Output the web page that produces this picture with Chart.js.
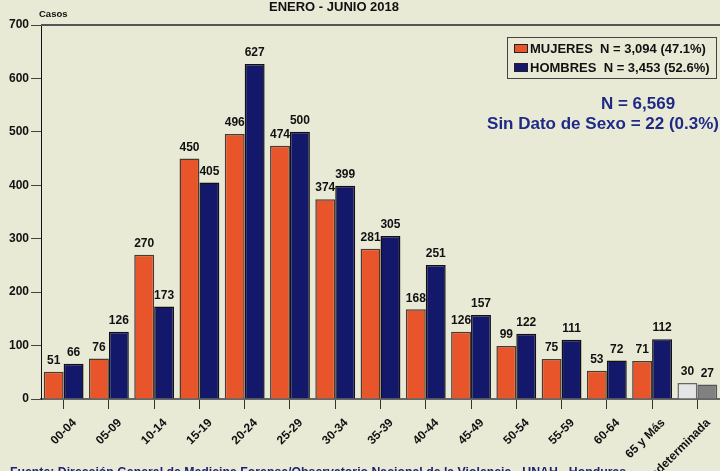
<!DOCTYPE html>
<html>
<head>
<meta charset="utf-8">
<script src="https://cdn.jsdelivr.net/npm/chart.js@4/dist/chart.umd.min.js"></script>
<style>
  html, body { margin: 0; padding: 0; background: #e9ead6; }
  #wrap { width: 720px; height: 471px; position: relative; }
</style>
</head>
<body>
<div id="wrap"><canvas id="chart"></canvas></div>
<script>
var categories = ['00-04', '05-09', '10-14', '15-19', '20-24', '25-29', '30-34', '35-39',
  '40-44', '45-49', '50-54', '55-59', '60-64', '65 y Más', 'Indeterminada'];
var mujeres = [51, 76, 270, 450, 496, 474, 374, 281, 168, 126, 99, 75, 53, 71, 30];
var hombres = [66, 126, 173, 405, 627, 500, 399, 305, 251, 157, 122, 111, 72, 112, 27];
var yTicks = [0, 100, 200, 300, 400, 500, 600, 700];

var FONT = '"Liberation Sans", Arial, sans-serif';
var ORANGE = '#e8552a', NAVY = '#13186a';
var lastIdx = categories.length - 1;

function colors(base, last) {
  return categories.map(function(c, i) { return i === lastIdx ? last : base; });
}

// data labels, rotated category labels, top frame line, legend box and notes
var extras = {
  id: 'extras',
  afterDatasetsDraw: function(chart) {
    var ctx = chart.ctx;
    ctx.save();
    ctx.fillStyle = '#111';
    ctx.font = 'bold 12px ' + FONT;
    ctx.textAlign = 'center';
    ctx.textBaseline = 'bottom';
    chart.data.datasets.forEach(function(ds, di) {
      chart.getDatasetMeta(di).data.forEach(function(bar, i) {
        ctx.fillText(ds.data[i], bar.x, bar.y - 5);
      });
    });
    ctx.restore();
  },
  afterDraw: function(chart) {
    var ctx = chart.ctx, a = chart.chartArea, y = chart.scales.y, x = chart.scales.x;
    ctx.save();
    // top line at 700
    ctx.strokeStyle = '#555';
    ctx.lineWidth = 2;
    ctx.beginPath();
    ctx.moveTo(a.left, y.getPixelForValue(700));
    ctx.lineTo(a.right, y.getPixelForValue(700));
    ctx.stroke();

    // category labels
    ctx.fillStyle = '#111';
    ctx.font = 'bold 12px ' + FONT;
    ctx.textAlign = 'right';
    ctx.textBaseline = 'middle';
    categories.forEach(function(c, i) {
      ctx.save();
      ctx.translate(x.getPixelForValue(i) + 11, a.bottom + 22);
      ctx.rotate(-Math.PI / 4);
      ctx.fillText(c, 0, 0);
      ctx.restore();
    });

    // title and axis label
    ctx.font = 'bold 13px ' + FONT;
    ctx.textAlign = 'center';
    ctx.fillText('ENERO - JUNIO 2018', 334, 7);
    ctx.font = 'bold 9.5px ' + FONT;
    ctx.textAlign = 'left';
    ctx.fillText('Casos', 39, 14);

    // legend box
    ctx.fillStyle = '#e9ead6';
    ctx.fillRect(507, 37, 209, 41);
    ctx.strokeStyle = '#444';
    ctx.lineWidth = 1;
    ctx.strokeRect(507.5, 37.5, 209, 41);
    var items = [[ORANGE, 'MUJERES  N = 3,094 (47.1%)'], [NAVY, 'HOMBRES  N = 3,453 (52.6%)']];
    ctx.font = 'bold 13px ' + FONT;
    items.forEach(function(it, k) {
      var cy = 48 + k * 19;
      ctx.fillStyle = it[0];
      ctx.fillRect(514, cy - 4, 13, 8);
      ctx.strokeStyle = '#222';
      ctx.strokeRect(514.5, cy - 3.5, 13, 8);
      ctx.fillStyle = '#111';
      ctx.fillText(it[1], 530, cy + 1);
    });

    // totals
    ctx.fillStyle = '#1e2a86';
    ctx.font = 'bold 17px ' + FONT;
    ctx.textAlign = 'center';
    ctx.fillText('N = 6,569', 638, 104);
    ctx.textAlign = 'right';
    ctx.fillText('Sin Dato de Sexo = 22 (0.3%)', 719, 124);

    // source
    ctx.fillStyle = '#1a2278';
    ctx.font = 'bold 12.3px ' + FONT;
    ctx.textAlign = 'left';
    ctx.fillText('Fuente: Dirección General de Medicina Forense/Observatorio Nacional de la Violencia - UNAH - Honduras', 10, 473);
    ctx.restore();
  }
};

new Chart(document.getElementById('chart'), {
  type: 'bar',
  data: {
    labels: categories,
    datasets: [{
      label: 'MUJERES',
      data: mujeres,
      backgroundColor: colors(ORANGE, '#e4e5e6'),
      borderColor: colors('#4a3a34', '#666'),
      borderWidth: 1.5,
      categoryPercentage: 0.88,
      barPercentage: 1.0
    }, {
      label: 'HOMBRES',
      data: hombres,
      backgroundColor: colors(NAVY, '#818083'),
      borderColor: colors('#111', '#555'),
      borderWidth: 1.5,
      categoryPercentage: 0.88,
      barPercentage: 1.0
    }]
  },
  options: {
    responsive: true,
    maintainAspectRatio: false,
    animation: false,
    layout: { padding: { top: 25, right: 0, left: 0, bottom: 0 } },
    plugins: {
      legend: { display: false },
      tooltip: { enabled: false }
    },
    scales: {
      x: {
        offset: true,
        grid: { offset: false, drawOnChartArea: false, color: '#333', tickLength: 10, lineWidth: 1 },
        border: { color: '#666', width: 2 },
        ticks: { display: false },
        afterFit: function(s) { s.height = 72; }
      },
      y: {
        min: 0,
        max: 700,
        afterBuildTicks: function(s) { s.ticks = yTicks.map(function(v) { return { value: v }; }); },
        grid: { drawOnChartArea: false, color: '#444', tickLength: 10 },
        border: { color: '#111', width: 1 },
        ticks: {
          color: '#111',
          font: { family: FONT, weight: 'bold', size: 12 },
          padding: 2
        },
        afterFit: function(s) { s.width = 41; }
      }
    }
  },
  plugins: [extras]
});
</script>
</body>
</html>
